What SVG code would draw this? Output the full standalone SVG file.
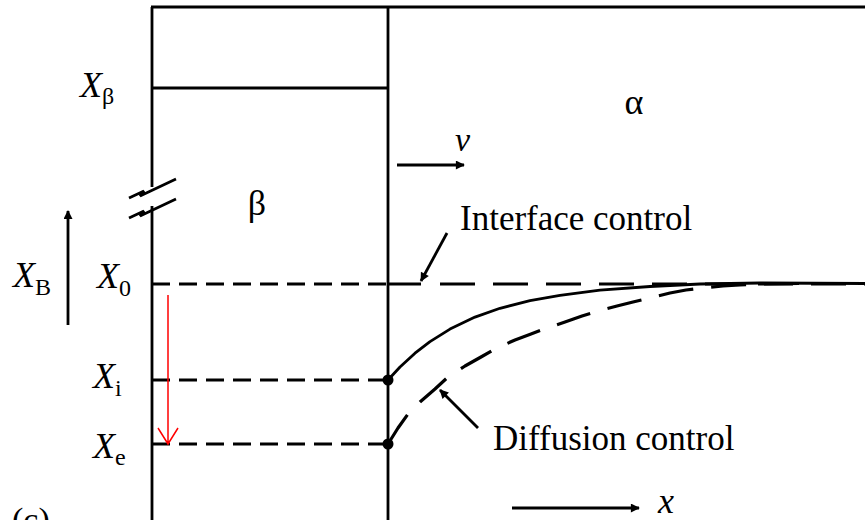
<svg xmlns="http://www.w3.org/2000/svg" width="865" height="520" viewBox="0 0 865 520">
<style>
.ln{stroke:#000;stroke-width:2.8;fill:none}
.dl{stroke:#000;stroke-width:3;fill:none;stroke-dasharray:18 9}
.dr{stroke:#000;stroke-width:3.2;fill:none;stroke-dasharray:35 18}
.t{font-family:"Liberation Serif","DejaVu Serif",serif;fill:#000}
.i{font-style:italic}
.sub{font-style:normal;font-size:24px}
</style>
<defs>
<marker id="ah" viewBox="0 0 10 10" refX="9" refY="5" markerWidth="13" markerHeight="9" markerUnits="userSpaceOnUse" orient="auto"><path d="M0,0 L10,5 L0,10 z" fill="#000"/></marker>
</defs>
<rect width="865" height="520" fill="#fff"/>
<g id="frame">
<path class="ln" d="M151,7 H865"/>
<path class="ln" d="M152,7 V187 M152,206 V520"/>
<path class="ln" d="M388,7 V520"/>
<path class="ln" d="M152,88 H388"/>
<path class="ln" stroke-width="3" stroke-linejoin="miter" d="M129,198 L144,191 L140,196 L176,179"/>
<path class="ln" stroke-width="3" stroke-linejoin="miter" d="M129,218 L144,211 L140,216 L176,199"/>
</g>
<g id="levels">
<path class="dl" d="M152,284 H388"/>
<path class="dl" d="M152,380 H388"/>
<path class="dl" d="M152,444 H388"/>
<path class="ln" d="M388,284 H421"/>
<path class="dr" d="M440,284 H865"/>
</g>
<g id="interface-curve">
<path class="ln" stroke-width="3.2" stroke-linejoin="round" d="M388,380 L400,367 L415,353.2 L430,341.6 L450,329.1 L475,317.1 L500,308.3 L530,300.6 L560,295.3 L600,290.2 L650,286.5 L700,284 L760,283 L865,283.5"/>
<circle cx="388" cy="380" r="5.5" fill="#000"/>
</g>
<g id="diffusion-curve">
<path class="dr" stroke-linejoin="round" d="M388,444 L398,428 L408,414 L420,402 L435,389 L448,377 L465,366 L481,357 L497,348 L515,340 L531,334 L547,328 L565,322 L582,316 L598,311 L617,306 L633,302 L650,298 L670,293 L686,290 L702,288 L723,286 L740,285 L757,284 L800,283.5"/>
<circle cx="388" cy="444" r="5.5" fill="#000"/>
</g>
<g id="connectors">
<path class="ln" marker-end="url(#ah)" d="M68,325 V211"/>
<path class="ln" marker-end="url(#ah)" d="M397,165 H464"/>
<path class="ln" marker-end="url(#ah)" d="M512,508 H639"/>
<path class="ln" marker-end="url(#ah)" d="M447,233 L421,281"/>
<path class="ln" marker-end="url(#ah)" d="M478,428 L440,390"/>
<path fill="none" stroke="#f00" stroke-width="1.5" d="M168,295 V444 M158,428 L168,444 L178,428"/>
</g>
<g id="labels">
<text class="t i" x="80" y="97" font-size="36">X<tspan class="sub" dy="7">β</tspan></text>
<text class="t i" x="13" y="287" font-size="36">X<tspan class="sub" dy="8">B</tspan></text>
<text class="t i" x="97" y="288" font-size="36">X<tspan class="sub" dy="8">0</tspan></text>
<text class="t i" x="93" y="388" font-size="36">X<tspan class="sub" dy="8">i</tspan></text>
<text class="t i" x="93" y="458" font-size="36">X<tspan class="sub" dy="7">e</tspan></text>
<text class="t" x="257" y="215" font-size="36" text-anchor="middle">β</text>
<text class="t" x="634" y="114" font-size="36" text-anchor="middle">α</text>
<text class="t i" x="455" y="151" font-size="34">ν</text>
<text class="t i" x="658" y="513" font-size="36">x</text>
<text class="t" x="460" y="230" font-size="35">Interface control</text>
<text class="t" x="493" y="450" font-size="35">Diffusion control</text>
<text class="t" x="12" y="531" font-size="34">(c)</text>
</g>
</svg>
